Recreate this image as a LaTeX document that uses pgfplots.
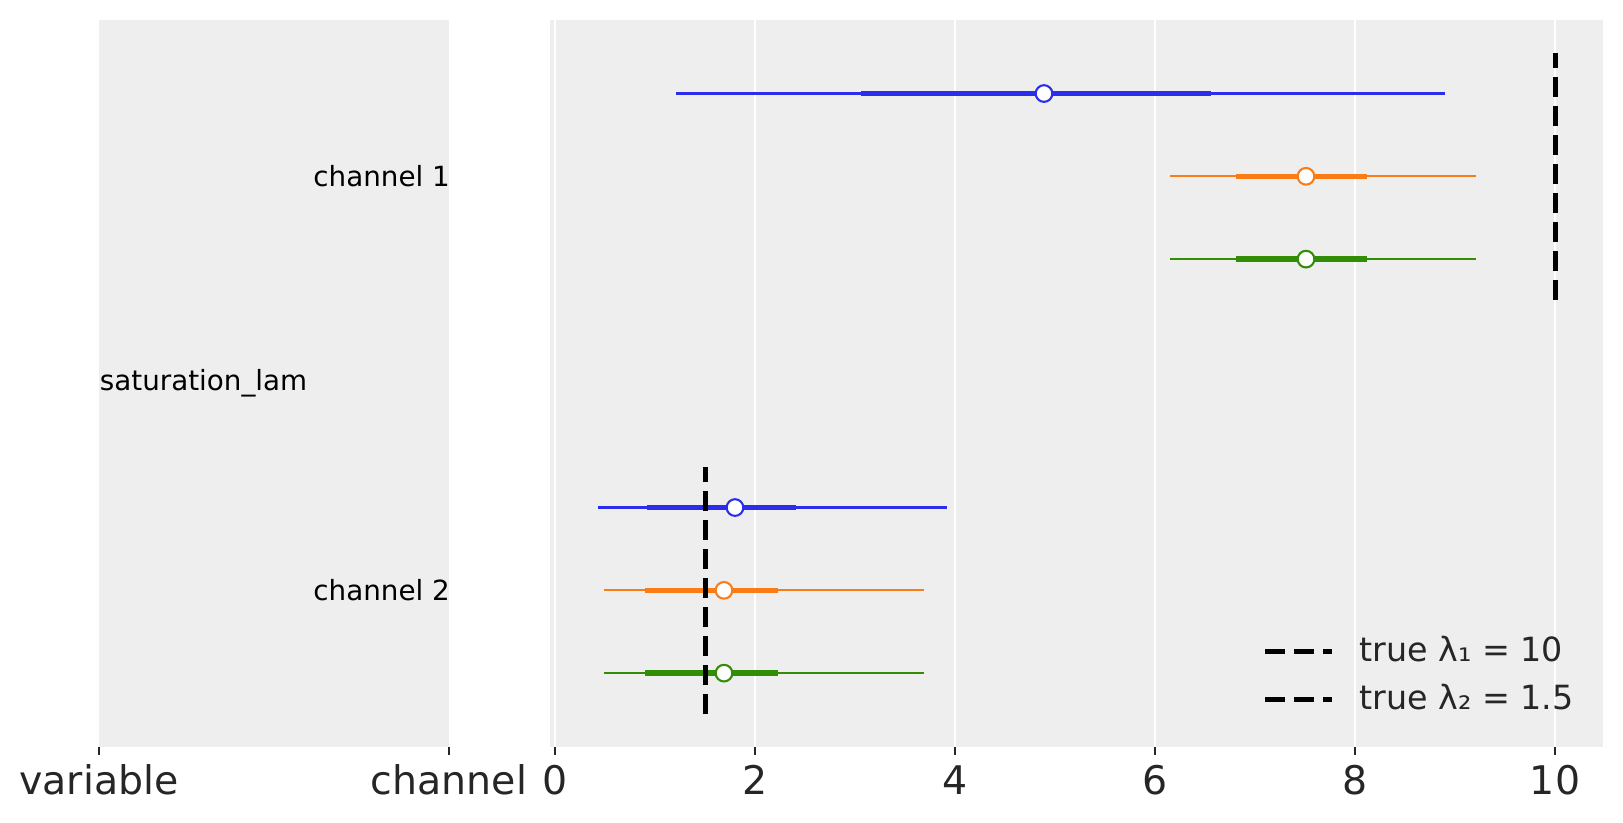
\documentclass[border=0pt]{standalone}
\usepackage{fontspec}
\setmainfont{DejaVu Sans}
\usepackage{pgfplots}
\pgfplotsset{compat=1.18}
\definecolor{bg}{HTML}{EEEEEE}
\definecolor{cb}{HTML}{2A2EEC}
\definecolor{co}{HTML}{FA7C17}
\definecolor{cg}{HTML}{328C06}
\definecolor{tk}{HTML}{262626}
\pgfplotsset{
  common/.style={
    scale only axis, anchor=south west, height=261.61pt,
    ymin=0, ymax=8.776, ytick=\empty,
    axis background/.style={fill=bg},
    axis x line*=bottom, axis y line=none, axis line style={draw=none},
    xtick align=outside, major tick length=2.9pt,
    every tick/.style={tk, line width=1pt},
    xticklabel style={font=\fontsize{14.2}{17}\selectfont, text=tk, anchor=base, inner sep=0pt, yshift=-14.4pt},
    /pgf/number format/assume math mode=true,
    clip=false,
  },
  fthin/.style={#1, line width=0.75pt, forget plot},
  fthick/.style={#1, line width=2pt, forget plot},
  fmed/.style={only marks, mark=*, mark size=3pt, mark options={draw=#1, fill=white, line width=0.75pt}, forget plot},
  truth/.style={black, line width=1.8pt, dash pattern=on 7.2pt off 3.24pt},
}
\begin{document}
\begin{tikzpicture}
\useasboundingbox (0,0) rectangle (584.28pt,296.28pt);
% left label panel
\begin{axis}[common, at={(35.64pt,27.47pt)}, width=126pt,
  xmin=0, xmax=1, xtick={0,1}, xticklabels={variable,channel}]
\node[anchor=east, inner sep=0pt, font=\fontsize{10}{12}\selectfont] at (axis cs:1.004,6.888) {channel 1};
\node[anchor=east, inner sep=0pt, font=\fontsize{10}{12}\selectfont] at (axis cs:1.004,1.888) {channel 2};
\node[anchor=west, inner sep=0pt, font=\fontsize{10}{12}\selectfont] at (axis cs:0.001,4.388) {saturation\_lam};
\end{axis}
% forest panel
\begin{axis}[common, at={(198pt,27.47pt)}, width=379.08pt,
  xmin=-0.05, xmax=10.48, xtick={0,2,4,6,8,10},
  xmajorgrids, major grid style={white, line width=0.85pt},
  legend cell align=left,
  legend image code/.code={\draw[#1] (0pt,0pt) -- (24.1pt,0pt);},
  legend style={at={(0.677,0.0977)}, anchor=west, draw=none, fill=none,
    inner sep=0pt, outer sep=0pt, row sep=0pt, column sep=0pt,
    font=\fontsize{12}{14}\selectfont, text=tk},
  legend style={nodes={inner xsep=8.9pt, inner ysep=0pt, text height=12.24pt, text depth=5.04pt}},
]
% channel 1
\addplot[fthin=cb] coordinates {(1.21,7.888) (8.90,7.888)};
\addplot[fthick=cb] coordinates {(3.06,7.888) (6.56,7.888)};
\addplot[fmed=cb] coordinates {(4.89,7.888)};
\addplot[fthin=co] coordinates {(6.15,6.888) (9.21,6.888)};
\addplot[fthick=co] coordinates {(6.81,6.888) (8.12,6.888)};
\addplot[fmed=co] coordinates {(7.51,6.888)};
\addplot[fthin=cg] coordinates {(6.15,5.888) (9.21,5.888)};
\addplot[fthick=cg] coordinates {(6.81,5.888) (8.12,5.888)};
\addplot[fmed=cg] coordinates {(7.51,5.888)};
% channel 2
\addplot[fthin=cb] coordinates {(0.43,2.888) (3.92,2.888)};
\addplot[fthick=cb] coordinates {(0.92,2.888) (2.41,2.888)};
\addplot[fmed=cb] coordinates {(1.80,2.888)};
\addplot[fthin=co] coordinates {(0.49,1.888) (3.69,1.888)};
\addplot[fthick=co] coordinates {(0.90,1.888) (2.23,1.888)};
\addplot[fmed=co] coordinates {(1.69,1.888)};
\addplot[fthin=cg] coordinates {(0.49,0.888) (3.69,0.888)};
\addplot[fthick=cg] coordinates {(0.90,0.888) (2.23,0.888)};
\addplot[fmed=cg] coordinates {(1.69,0.888)};
% true values
\addplot[truth] coordinates {(10,5.394) (10,8.382)};
\addlegendentry{true λ₁ = 10}
\addplot[truth] coordinates {(1.5,0.394) (1.5,3.382)};
\addlegendentry{true λ₂ = 1.5}
\end{axis}
\end{tikzpicture}
\end{document}
